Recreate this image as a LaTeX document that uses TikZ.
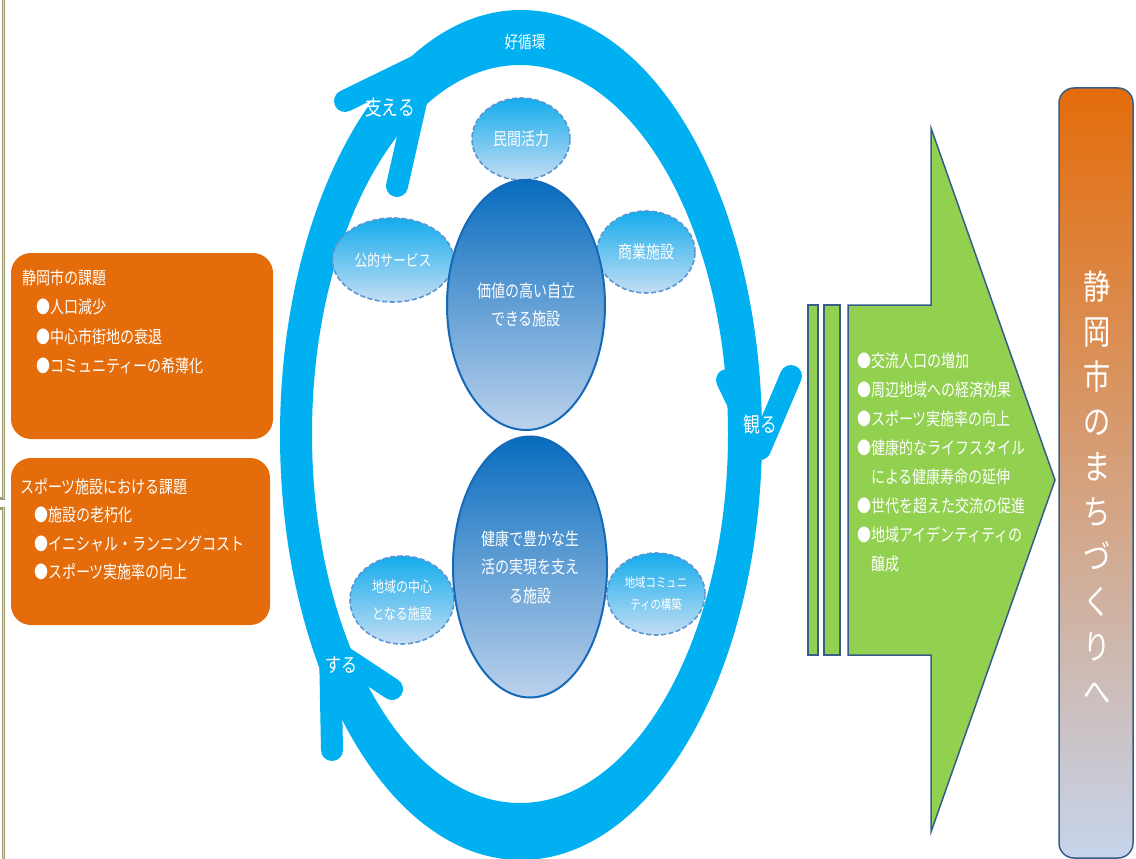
\documentclass[tikz,border=0pt]{standalone}
\usepackage{fontspec}
\setmainfont{Noto Sans CJK JP}[FakeStretch=0.8]
\usetikzlibrary{shapes.geometric}
\begin{document}
\begin{tikzpicture}[x=1pt,y=-1pt,
    whitetext/.style={text=white, inner sep=0pt},
    headarm/.style={draw=r0g176b240, line width=22pt, line cap=round, line join=round},
    smallbubble/.style={ellipse, draw=r91g150b210, dash pattern=on 5pt off 2.5pt, line width=1.6pt,
      top color=r20g172b236, bottom color=r196g222b244, inner sep=0pt, text=white, align=center},
    bigbubble/.style={ellipse, draw=r20g105b185, line width=2pt,
      top color=r8g108b190, bottom color=r188g210b236, inner sep=0pt, text=white, align=center},
    issuebox/.style={rectangle, rounded corners=20pt, fill=r228g108b10, inner sep=0pt}]
            \useasboundingbox (0,0) rectangle (1136,859);%

            % Changing color 160 155 115
            \definecolor{r160g155b115}{RGB}{160,155,115}%
            \definecolor{r222g220b200}{RGB}{222,220,200}%

            % Drawing frame marks at left edge
            \draw [r160g155b115, line width=3pt] (3,0) -- (3,498) -- (0,498);%
            \draw [r160g155b115, line width=3pt] (0,508) -- (3,508) -- (3,859);%
            \draw [r222g220b200, line width=0.8pt] (3,0) -- (3,498);%
            \draw [r222g220b200, line width=0.8pt] (3,508) -- (3,859);%

            % Changing color 228 108 10
            \definecolor{r228g108b10}{RGB}{228,108,10}%

            % Drawing issue boxes
            \node [issuebox, minimum width=262pt, minimum height=186pt] (cityBox) at (142,346) {};%
            \node [whitetext, anchor=west, align=left, font=\fontsize{17.5}{29.5}\selectfont] (cityText) at (22,322) {静岡市の課題\\
              \hspace*{14pt}●人口減少\\
              \hspace*{14pt}●中心市街地の衰退\\
              \hspace*{14pt}●コミュニティーの希薄化};%
            \node [issuebox, minimum width=259pt, minimum height=167pt] (sportsBox) at (140.5,541.5) {};%
            \node [whitetext, anchor=west, align=left, font=\fontsize{17.5}{28.5}\selectfont] (sportsText) at (20,529.5) {スポーツ施設における課題\\
              \hspace*{14pt}●施設の老朽化\\
              \hspace*{14pt}●イニシャル・ランニングコスト\\
              \hspace*{14pt}●スポーツ実施率の向上};%

            % Changing color 0 176 240
            \definecolor{r0g176b240}{RGB}{0,176,240}%

            % Drawing cycle ring
            \fill [r0g176b240, even odd rule] (521,435) ellipse [x radius=241, y radius=425]
              (520,434) ellipse [x radius=208, y radius=369];%

            % Drawing arrow heads of the cycle
            \draw [headarm] (345,101) -- (425,62) -- (397,186);%
            \draw [headarm] (727,380) -- (760,449) -- (791,376);%
            \draw [headarm] (392,689) -- (330,648) -- (332,750);%

            % Marking cycle labels
            \node [whitetext, font=\fontsize{17}{20}\selectfont] (cycleLabel) at (525,42) {好循環};%
            \node [whitetext, font=\fontsize{21}{24}\selectfont] (supportLabel) at (390,108) {支える};%
            \node [whitetext, font=\fontsize{21}{24}\selectfont] (watchLabel) at (760,425) {観る};%
            \node [whitetext, font=\fontsize{20}{24}\selectfont] (doLabel) at (341,665) {する};%

            % Changing color for bubbles
            \definecolor{r91g150b210}{RGB}{91,150,210}%
            \definecolor{r20g172b236}{RGB}{20,172,236}%
            \definecolor{r196g222b244}{RGB}{196,222,244}%
            \definecolor{r20g105b185}{RGB}{20,105,185}%
            \definecolor{r8g108b190}{RGB}{8,108,190}%
            \definecolor{r188g210b236}{RGB}{188,210,236}%

            % Drawing small bubbles
            \node [smallbubble, minimum width=98pt, minimum height=82pt, font=\fontsize{17.5}{20}\selectfont] (privateVigor) at (521,139) {民間活力};%
            \node [smallbubble, minimum width=121pt, minimum height=84pt, font=\fontsize{16}{20}\selectfont] (publicService) at (393,260) {公的サービス};%
            \node [smallbubble, minimum width=98pt, minimum height=82pt, font=\fontsize{17.5}{20}\selectfont] (commercial) at (646,252) {商業施設};%
            \node [smallbubble, minimum width=104pt, minimum height=88pt, font=\fontsize{15}{27}\selectfont] (regionalCenter) at (402,600) {地域の中心\\となる施設};%
            \node [smallbubble, minimum width=98pt, minimum height=82pt, font=\fontsize{13}{22}\selectfont] (communityBuild) at (656,594) {地域コミュニ\\ティの構築};%

            % Drawing core facilities
            \node [bigbubble, minimum width=158pt, minimum height=250pt, font=\fontsize{17.5}{28}\selectfont] (valueFacility) at (526,305) {価値の高い自立\\できる施設};%
            \node [bigbubble, minimum width=154pt, minimum height=261pt, font=\fontsize{17.5}{28.5}\selectfont] (healthFacility) at (530,567) {健康で豊かな生\\活の実現を支え\\る施設};%

            % Changing color 146 208 80
            \definecolor{r146g208b80}{RGB}{146,208,80}%
            \definecolor{r56g93b138}{RGB}{56,93,138}%

            % Drawing effect arrow
            \draw [fill=r146g208b80, draw=r56g93b138, line width=1.5pt] (808,305) rectangle (818,655);%
            \draw [fill=r146g208b80, draw=r56g93b138, line width=1.5pt] (824,305) rectangle (840,655);%
            \draw [fill=r146g208b80, draw=r56g93b138, line width=1.5pt] (848,305) -- (931,305) -- (931,128)
              -- (1055,480) -- (931,832) -- (931,655) -- (848,655) -- cycle;%
            \node [whitetext, anchor=west, align=left, font=\fontsize{17.5}{29}\selectfont] (effectText) at (857,462.5) {●交流人口の増加\\
              ●周辺地域への経済効果\\
              ●スポーツ実施率の向上\\
              ●健康的なライフスタイル\\
              \hspace*{14pt}による健康寿命の延伸\\
              ●世代を超えた交流の促進\\
              ●地域アイデンティティの\\
              \hspace*{14pt}醸成};%

            % Changing color for goal bar
            \definecolor{r198g212b235}{RGB}{198,212,235}%

            % Drawing goal bar
            \node [rectangle, rounded corners=15pt, minimum width=74pt, minimum height=770pt, inner sep=0pt,
              top color=r228g108b10, bottom color=r198g212b235, draw=r56g93b138, line width=1.5pt] (goalBar) at (1096,473) {};%
            \node [whitetext, align=center, font=\fontsize{34}{45}\selectfont] (goalText) at (1097,488) {静\\岡\\市\\の\\ま\\ち\\づ\\く\\り\\へ};%

        \end{tikzpicture}
\end{document}
